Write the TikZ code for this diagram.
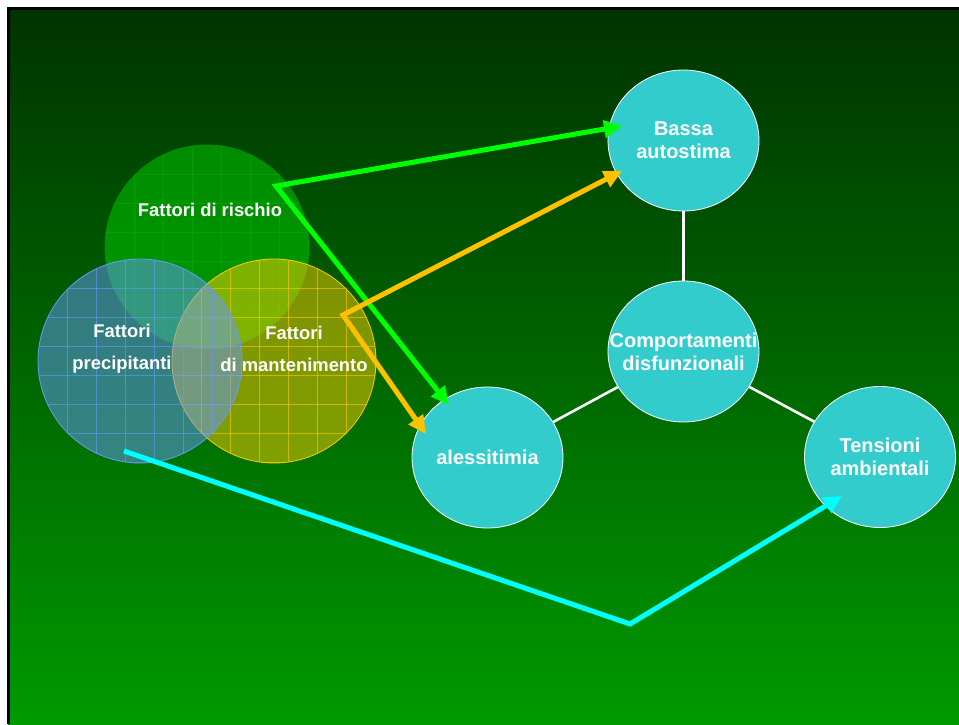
\documentclass[tikz,border=0pt]{standalone}
\usepackage{fontspec}
\setmainfont{Liberation Sans}
\usetikzlibrary{arrows.meta,shapes.geometric,calc}
\definecolor{bgtop}{RGB}{0,51,0}
\definecolor{bgbot}{RGB}{0,153,0}
\definecolor{cyanfill}{RGB}{51,204,204}
\definecolor{ora}{RGB}{255,192,0}
\definecolor{lgreen}{RGB}{0,255,0}
\definecolor{aqua}{RGB}{0,255,255}
\definecolor{rgreen}{RGB}{0,210,0}
\definecolor{pblue}{RGB}{102,153,255}
\definecolor{myellow}{RGB}{255,204,0}
\begin{document}
\begin{tikzpicture}[x=1pt,y=-1pt,
 bubble/.style={ellipse, fill=cyanfill, draw=white, line width=0.8pt, minimum width=151pt, minimum height=141pt, inner sep=0pt},
 btext/.style={text=white, font=\fontsize{20}{23}\selectfont\bfseries, align=center, inner sep=0pt},
 venn/.style={circle, minimum size=204pt, inner sep=0pt, line width=0.8pt},
 vlabel/.style={text=white, font=\fontsize{18.4}{32}\selectfont\bfseries, align=center, inner sep=0pt},
 link/.style={draw=white, line width=2.6pt},
 arr/.style={line width=5pt},
 gridR/.style={draw=rgreen, opacity=0.25, line width=0.8pt},
 gridP/.style={draw=pblue, opacity=0.6, line width=0.8pt},
 gridM/.style={draw=myellow, opacity=0.6, line width=0.8pt},
]
\useasboundingbox (0,0) rectangle (959,724);
\fill[white] (0,0) rectangle (959,724);
\shade[top color=bgtop, bottom color=bgbot] (8,8) rectangle (959,724);
\draw[black, line width=2.5pt] (8.25,724) -- (8.25,8.25) -- (959,8.25);

% Venn circles
\node[venn, fill=rgreen, fill opacity=0.5, draw=rgreen!70!black] (risc) at (207,247) {};
\begin{scope}
\clip (207,247) circle (102);
\foreach \k in {1,...,7} {\draw[gridR] ({105+29*\k},145) -- ++(0,204); \draw[gridR] (105,{145+29*\k}) -- ++(204,0);}
\end{scope}
\node[venn, fill=myellow, fill opacity=0.5, draw=myellow] (mant) at (274,361) {};
\begin{scope}
\clip (274,361) circle (102);
\foreach \k in {1,...,7} {\draw[gridM] ({172+29*\k},259) -- ++(0,204); \draw[gridM] (172,{259+29*\k}) -- ++(204,0);}
\end{scope}
\node[venn, fill=pblue, fill opacity=0.5, draw=pblue] (prec) at (140,361) {};
\begin{scope}
\clip (140,361) circle (102);
\foreach \k in {1,...,7} {\draw[gridP] ({38+29*\k},259) -- ++(0,204); \draw[gridP] (38,{259+29*\k}) -- ++(204,0);}
\end{scope}

\node[vlabel] (trisc) at (210,210) {Fattori di rischio};
\node[vlabel] (tprec) at (122,349) {Fattori\\precipitanti};
\node[vlabel] (tmant) at (294,349) {Fattori\\di mantenimento};

% cyan bubbles
\node[bubble] (bassa) at (683.5,140.5) {};
\node[bubble] (comp) at (683.5,351.5) {};
\node[bubble] (tens) at (880,457) {};
\node[bubble] (aless) at (487.5,457.5) {};
\draw[link] (bassa) -- (comp);
\draw[link] (comp) -- (aless);
\draw[link] (comp) -- (tens);
\node[btext] (tbassa) at (bassa.center) {Bassa\\autostima};
\node[btext] (tcomp) at (comp.center) {Comportamenti\\disfunzionali};
\node[btext] (ttens) at (tens.center) {Tensioni\\ambientali};
\node[btext] (taless) at (aless.center) {alessitimia};

% arrows
\coordinate (gc) at ($(risc.center)+(69,-61)$);
\coordinate (gB) at ($(bassa.center)+(-61.5,-14.5)$);
\coordinate (gA) at ($(aless.center)+(-38.5,-52.5)$);
\coordinate (oc) at ($(mant.center)+(69,-46)$);
\coordinate (oB) at ($(bassa.center)+(-61.5,30.5)$);
\coordinate (oA) at ($(aless.center)+(-61.5,-23.5)$);
\coordinate (cs) at ($(prec.center)+(-16,90)$);
\coordinate (cb) at (630,624);
\coordinate (cT) at ($(tens.center)+(-38,39)$);

\draw[arr, draw=lgreen, {Triangle[length=18pt,width=17pt]}-{Triangle[length=18pt,width=17pt]}] (gB) -- (gc) -- (gA);
\draw[arr, draw=ora, {Triangle[length=18pt,width=17pt]}-{Triangle[length=18pt,width=17pt]}] (oB) -- (oc) -- (oA);
\draw[arr, draw=aqua, -{Triangle[length=18pt,width=17pt]}] (cs) -- (cb) -- (cT);
\end{tikzpicture}
\end{document}
